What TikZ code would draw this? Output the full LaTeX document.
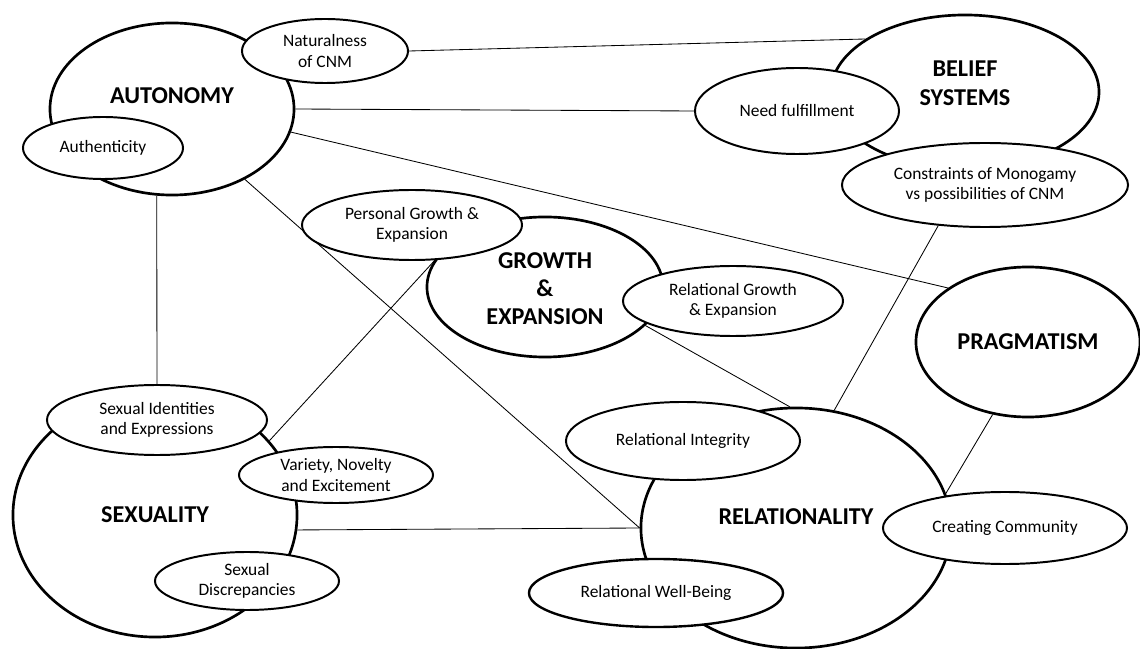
\documentclass[tikz,border=0pt]{standalone}
\usepackage{fontspec}
\setmainfont{Carlito}
\usetikzlibrary{shapes.geometric,backgrounds}
\tikzset{
  themebox/.style={ellipse, draw=black, line width=1.9pt, fill=white,
    inner sep=0pt},
  themetext/.style={font=\fontsize{17.2}{20}\selectfont\bfseries,
    align=center, inner sep=0pt},
  subbox/.style={ellipse, draw=black, line width=1.4pt, fill=white,
    inner sep=0pt, font=\fontsize{12.4}{14.5}\selectfont, align=center},
  link/.style={line width=0.6pt, black},
}
\begin{document}
\begin{tikzpicture}[x=0.025cm, y=-0.025cm]
    \useasboundingbox (0,0) rectangle (1140,649);
    % main themes
    \node[themebox, minimum width=6.1cm, minimum height=4.3cm,
      label={[themetext, yshift=0.33cm]center:AUTONOMY}] (auto) at (172,109) {};
    \node[themebox, minimum width=6.7cm, minimum height=3.85cm,
      label={[themetext, yshift=0.22cm]center:BELIEF\\SYSTEMS}] (belief) at (965,92) {};
    \node[themebox, minimum width=5.9cm, minimum height=3.5cm,
      label={[themetext, yshift=-0.05cm]center:GROWTH\\\&\\EXPANSION}] (growth) at (545,287) {};
    \node[themebox, minimum width=5.6cm, minimum height=3.75cm,
      label={[themetext]center:PRAGMATISM}] (prag) at (1028,342) {};
    \node[themebox, minimum width=7.1cm, minimum height=6.1cm,
      label={[themetext]center:SEXUALITY}] (sexu) at (155,515) {};
    \node[themebox, minimum width=7.75cm, minimum height=6.0cm,
      label={[themetext, yshift=0.28cm]center:RELATIONALITY}] (relat) at (796,528) {};
    % sub-themes
    \node[subbox, minimum width=4.15cm, minimum height=1.6cm] (natur) at (325,51) {Naturalness\\of CNM};
    \node[subbox, minimum width=4.0cm, minimum height=1.55cm] (authen) at (103,148) {Authenticity};
    \node[subbox, minimum width=5.1cm, minimum height=2.15cm] (need) at (797,111) {Need fulfillment};
    \node[subbox, minimum width=7.15cm, minimum height=2.1cm] (constr) at (985,185) {Constraints of Monogamy\\vs possibilities of CNM};
    \node[subbox, minimum width=5.5cm, minimum height=1.75cm] (persg) at (412,225) {Personal Growth \&\\Expansion};
    \node[subbox, minimum width=5.5cm, minimum height=1.75cm] (relg) at (733,301) {Relational Growth\\\& Expansion};
    \node[subbox, minimum width=5.5cm, minimum height=1.75cm] (sexid) at (157,420) {Sexual Identities\\and Expressions};
    \node[subbox, minimum width=4.85cm, minimum height=1.4cm] (variety) at (336,475) {Variety, Novelty\\and Excitement};
    \node[subbox, minimum width=4.6cm, minimum height=1.45cm] (sexdis) at (247,581) {Sexual\\Discrepancies};
    \node[subbox, minimum width=5.85cm, minimum height=1.95cm] (relint) at (683,441) {Relational Integrity};
    \node[subbox, line width=1.7pt, minimum width=6.35cm, minimum height=1.7cm] (relwb) at (656,593) {Relational Well-Being};
    \node[subbox, minimum width=6.1cm, minimum height=1.8cm] (commun) at (1005,528) {Creating Community};
    % links
    \begin{scope}[on background layer]
      \draw[link] (natur.east) -- (belief.152);
      \draw[link] (auto.east) -- (need.west);
      \draw[link] (auto.-11.5) -- (prag.146);
      \draw[link] (auto.-44) -- (relat.west);
      \draw[link] (auto.-100) -- (sexid.north);
      \draw[link] (persg.-57) -- (sexu.33);
      \draw[link] (growth.-21) -- (relat.93);
      \draw[link] (constr.-139.5) -- (relat.72);
      \draw[link] (prag.-116) -- (commun.152);
      \draw[link] (sexu.-6) -- (relat.west);
    \end{scope}
\end{tikzpicture}
\end{document}
